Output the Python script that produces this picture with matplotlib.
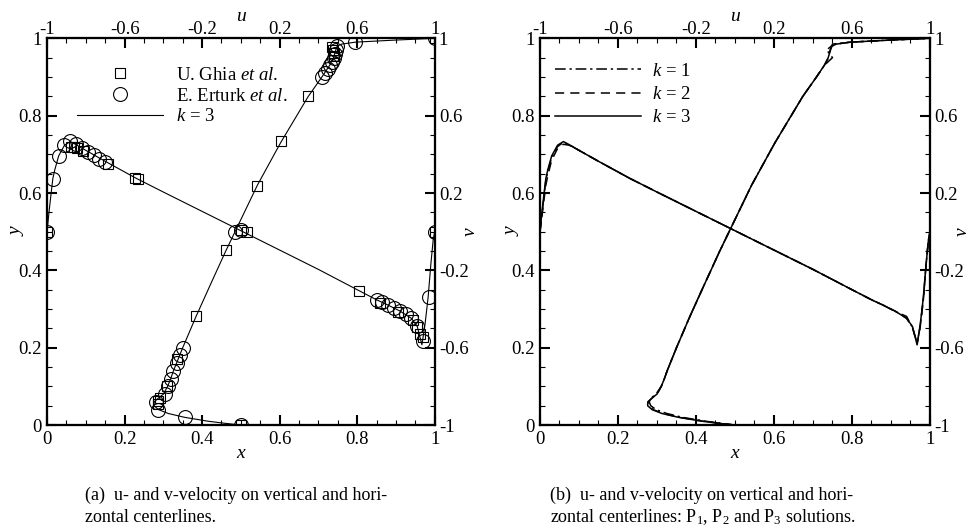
import matplotlib
matplotlib.use("Agg")
import matplotlib.pyplot as plt
from matplotlib.lines import Line2D

plt.rcParams['font.family'] = ['Liberation Serif', 'DejaVu Serif']
plt.rcParams['mathtext.fontset'] = 'custom'
plt.rcParams['mathtext.rm'] = 'Liberation Serif'
plt.rcParams['mathtext.it'] = 'Liberation Serif:italic'
plt.rcParams['axes.unicode_minus'] = False

# Ghia et al., u along vertical centerline
ghia_y = [1.0, 0.9766, 0.9688, 0.9609, 0.9531, 0.8516, 0.7344, 0.6172, 0.5, 0.4531,
          0.2813, 0.1719, 0.1016, 0.0703, 0.0625, 0.0547, 0.0]
ghia_u = [1.0, 0.47221, 0.47783, 0.4807, 0.47804, 0.34635, 0.20673, 0.08344, 0.03111,
          -0.0754, -0.23186, -0.32709, -0.38, -0.41657, -0.42537, -0.42735, 0.0]
# Ghia et al., v along horizontal centerline
ghia_x = [1.0, 0.9688, 0.9609, 0.9531, 0.9453, 0.9063, 0.8594, 0.8047, 0.5, 0.2344,
          0.2266, 0.1563, 0.0938, 0.0781, 0.0703, 0.0625, 0.0]
ghia_v = [0.0, -0.54302, -0.52987, -0.49099, -0.45863, -0.41496, -0.36737, -0.30719,
          0.00831, 0.27224, 0.28003, 0.3507, 0.41487, 0.43124, 0.43733, 0.43983, 0.0]

# Erturk et al.
ert_y = [1.0, 0.99, 0.98, 0.97, 0.96, 0.95, 0.94, 0.93, 0.92, 0.91, 0.90, 0.5,
         0.20, 0.18, 0.16, 0.14, 0.12, 0.10, 0.08, 0.06, 0.04, 0.02, 0.0]
ert_u = [1.0, 0.588, 0.498, 0.492, 0.485, 0.478, 0.469, 0.458, 0.447, 0.434, 0.418, -0.03,
         -0.300, -0.314, -0.332, -0.348, -0.362, -0.374, -0.392, -0.438, -0.426, -0.288, 0.0]
ert_x = [0.0, 0.015, 0.03, 0.045, 0.06, 0.075, 0.09, 0.105, 0.12, 0.135, 0.15, 0.5,
         0.85, 0.865, 0.88, 0.895, 0.91, 0.925, 0.94, 0.955, 0.97, 0.985, 1.0]
ert_v = [0.0, 0.275, 0.39, 0.447, 0.468, 0.452, 0.432, 0.414, 0.396, 0.378, 0.36, 0.008,
         -0.352, -0.366, -0.380, -0.395, -0.410, -0.426, -0.446, -0.490, -0.566, -0.337, 0.0]

# DG solutions, u(y) on vertical centerline
y_u = [0.0, 0.005, 0.01, 0.02, 0.03, 0.04, 0.05, 0.06, 0.07, 0.08, 0.10, 0.12, 0.14, 0.16,
       0.20, 0.28, 0.36, 0.45, 0.50, 0.62, 0.73, 0.85, 0.90, 0.93, 0.95, 0.97, 0.98, 0.985,
       0.99, 0.995, 1.0]
u_k3 = [0.0, -0.09, -0.17, -0.29, -0.375, -0.425, -0.448, -0.447, -0.425, -0.400, -0.378,
        -0.362, -0.348, -0.332, -0.300, -0.232, -0.160, -0.078, -0.030, 0.085, 0.205, 0.348,
        0.418, 0.458, 0.478, 0.490, 0.497, 0.52, 0.59, 0.78, 1.0]
u_k2 = [0.0, -0.085, -0.165, -0.285, -0.37, -0.42, -0.443, -0.445, -0.425, -0.400, -0.378,
        -0.362, -0.348, -0.332, -0.300, -0.232, -0.160, -0.078, -0.030, 0.085, 0.205, 0.348,
        0.418, 0.458, 0.480, 0.488, 0.497, 0.52, 0.59, 0.78, 1.0]
u_k1 = [0.0, -0.08, -0.15, -0.27, -0.35, -0.405, -0.432, -0.44, -0.43, -0.405, -0.378,
        -0.362, -0.348, -0.332, -0.300, -0.232, -0.160, -0.078, -0.030, 0.085, 0.205, 0.348,
        0.418, 0.458, 0.500, 0.470, 0.495, 0.50, 0.59, 0.78, 1.0]

# DG solutions, v(x) on horizontal centerline
x_v = [0.0, 0.005, 0.01, 0.015, 0.02, 0.03, 0.045, 0.06, 0.075, 0.09, 0.12, 0.15, 0.23,
       0.30, 0.40, 0.50, 0.60, 0.70, 0.80, 0.85, 0.88, 0.91, 0.94, 0.955, 0.967, 0.975,
       0.983, 0.99, 0.996, 1.0]
v_k3 = [0.0, 0.10, 0.19, 0.275, 0.32, 0.392, 0.447, 0.466, 0.450, 0.432, 0.398, 0.364, 0.276,
        0.205, 0.105, 0.005, -0.095, -0.195, -0.300, -0.352, -0.380, -0.410, -0.448, -0.490,
        -0.585, -0.48, -0.34, -0.17, -0.044, 0.0]
v_k2 = [0.0, 0.08, 0.16, 0.24, 0.29, 0.37, 0.43, 0.452, 0.447, 0.432, 0.398, 0.364, 0.276,
        0.205, 0.105, 0.005, -0.095, -0.195, -0.300, -0.352, -0.380, -0.410, -0.448, -0.495,
        -0.580, -0.49, -0.35, -0.17, -0.044, 0.0]
v_k1 = [0.0, 0.09, 0.18, 0.265, 0.31, 0.385, 0.44, 0.462, 0.450, 0.432, 0.398, 0.364, 0.276,
        0.205, 0.105, 0.005, -0.095, -0.195, -0.300, -0.352, -0.380, -0.412, -0.438, -0.495,
        -0.575, -0.49, -0.35, -0.17, -0.044, 0.0]

fig = plt.figure(figsize=(9.74, 5.32), dpi=100)

tick_fs = 13.5
lab_fs = 14


def setup_axes(rect, ylab_x, vlab_x):
    ax = fig.add_axes(rect)
    axu = ax.twiny()
    axv = ax.twinx()
    ax.set_xlim(0, 1)
    ax.set_ylim(0, 1)
    axu.set_xlim(-1, 1)
    axv.set_ylim(-1, 1)
    ax.set_xticks([0, 0.2, 0.4, 0.6, 0.8, 1])
    ax.set_xticklabels(['0', '0.2', '0.4', '0.6', '0.8', '1'])
    ax.set_yticks([0, 0.2, 0.4, 0.6, 0.8, 1])
    ax.set_yticklabels(['0', '0.2', '0.4', '0.6', '0.8', '1'])
    ax.set_xticks([i * 0.05 for i in range(21)], minor=True)
    ax.set_yticks([i * 0.05 for i in range(21)], minor=True)
    ticks2 = [-1, -0.6, -0.2, 0.2, 0.6, 1]
    lab2 = ['-1', '-0.6', '-0.2', '0.2', '0.6', '1']
    axu.set_xticks(ticks2)
    axu.set_xticklabels(lab2)
    axu.set_xticks([-1 + i * 0.1 for i in range(21)], minor=True)
    axv.set_yticks(ticks2)
    axv.set_yticklabels(lab2)
    axv.set_yticks([-1 + i * 0.1 for i in range(21)], minor=True)
    for a in (ax, axu, axv):
        a.tick_params(which='major', direction='in', length=7, width=1.5,
                      labelsize=tick_fs, pad=4)
        a.tick_params(which='minor', direction='in', length=3.5, width=0.8)
        for s in a.spines.values():
            s.set_linewidth(1.5)
    axu.tick_params(which='major', pad=0.5)
    axv.tick_params(which='major', pad=3)
    ax.set_xlabel('x', fontsize=lab_fs, fontstyle='italic')
    ax.xaxis.set_label_coords(0.5, -0.052)
    ax.set_ylabel('y', fontsize=lab_fs, fontstyle='italic')
    ax.yaxis.set_label_coords(ylab_x, 0.5)
    axu.set_xlabel('u', fontsize=lab_fs, fontstyle='italic')
    axu.xaxis.set_label_coords(0.5, 1.045)
    axv.set_ylabel('v', fontsize=lab_fs, fontstyle='italic')
    axv.yaxis.set_label_coords(vlab_x, 0.5)
    return ax, axu, axv


# (a)
ax, axu, axv = setup_axes([0.0483, 0.201, 0.398, 0.727], -0.055, 1.07)
axu.plot(u_k3, y_u, color='black', lw=0.8)
axv.plot(x_v, v_k3, color='black', lw=0.8)
axu.plot(ghia_u, ghia_y, ls='none', marker='s', ms=7, mfc='none', mec='black', mew=0.8)
axv.plot(ghia_x, ghia_v, ls='none', marker='s', ms=7, mfc='none', mec='black', mew=0.8)
axu.plot(ert_u, ert_y, ls='none', marker='o', ms=10, mfc='none', mec='black', mew=0.8)
axv.plot(ert_x, ert_v, ls='none', marker='o', ms=10, mfc='none', mec='black', mew=0.8)

handles = [
    Line2D([], [], ls='none', marker='s', ms=7, mfc='none', mec='black', mew=0.8),
    Line2D([], [], ls='none', marker='o', ms=10, mfc='none', mec='black', mew=0.8),
    Line2D([], [], color='black', lw=0.8),
]
labels = [r'U. Ghia $\mathit{et\ al.}$', r'E. Erturk $\mathit{et\ al.}$', r'$k$ = 3']
axv.legend(handles, labels, loc='upper left', bbox_to_anchor=(0.077, 0.927),
           frameon=False, fontsize=tick_fs, handlelength=4.6, handletextpad=0.7,
           labelspacing=0.2, borderpad=0, borderaxespad=0)

# (b)
bx, bxu, bxv = setup_axes([0.5544, 0.201, 0.4004, 0.727], -0.05, 1.06)
styles = [((0, (7, 2.5, 1.5, 2.5)), u_k1, v_k1, r'$k$ = 1'),
          ((0, (6, 4)), u_k2, v_k2, r'$k$ = 2'),
          ('-', u_k3, v_k3, r'$k$ = 3')]
leg_lines = []
for ls, uu, vv, lab in styles:
    l, = bxu.plot(uu, y_u, color='black', lw=1.1, ls=ls, label=lab)
    bxv.plot(x_v, vv, color='black', lw=1.1, ls=ls)
    leg_lines.append(l)
bxv.legend(leg_lines, [s[3] for s in styles], loc='upper left',
           bbox_to_anchor=(0.038, 0.937), frameon=False, fontsize=tick_fs,
           handlelength=4.6, handletextpad=0.6, labelspacing=0.33, borderpad=0,
           borderaxespad=0)

cap_fs = 13
fig.text(85 / 974, 1 - 500 / 532, '(a)  u- and v-velocity on vertical and hori-',
         fontsize=cap_fs, va='baseline')
fig.text(85 / 974, 1 - 522 / 532, 'zontal centerlines.', fontsize=cap_fs, va='baseline')
fig.text(550 / 974, 1 - 500 / 532, '(b)  u- and v-velocity on vertical and hori-',
         fontsize=cap_fs, va='baseline')
fig.text(550 / 974, 1 - 522 / 532,
         r'zontal centerlines: P$_1$, P$_2$ and P$_3$ solutions.',
         fontsize=cap_fs, va='baseline')

fig.savefig('out.png', dpi=100)
